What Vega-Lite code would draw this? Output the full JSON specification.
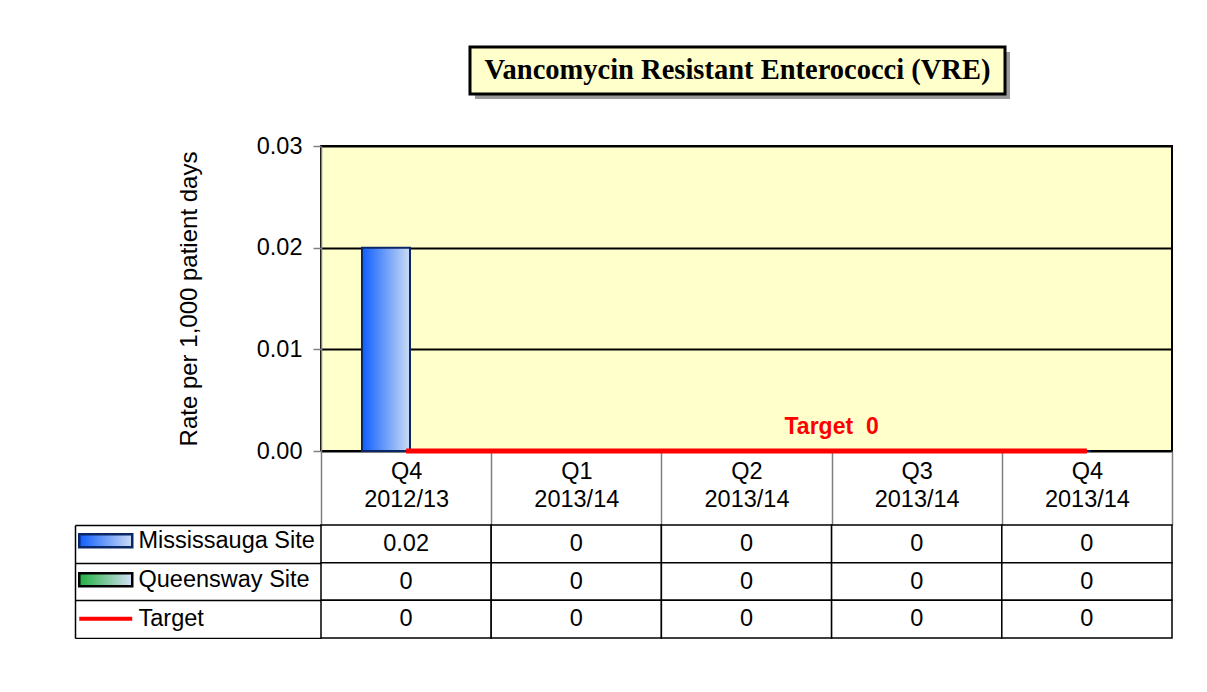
{
  "$schema": "https://vega.github.io/schema/vega-lite/v6.json",
  "background": "white",
  "padding": {"left": 74, "top": 45, "right": 0, "bottom": 0},
  "config": {"font": "Liberation Sans", "view": {"stroke": null}},
  "datasets": {
    "rates": [
      {"period": "Q4 2012/13", "series": "Mississauga Site", "value": 0.02},
      {"period": "Q1 2013/14", "series": "Mississauga Site", "value": 0},
      {"period": "Q2 2013/14", "series": "Mississauga Site", "value": 0},
      {"period": "Q3 2013/14", "series": "Mississauga Site", "value": 0},
      {"period": "Q4 2013/14", "series": "Mississauga Site", "value": 0},
      {"period": "Q4 2012/13", "series": "Queensway Site", "value": 0},
      {"period": "Q1 2013/14", "series": "Queensway Site", "value": 0},
      {"period": "Q2 2013/14", "series": "Queensway Site", "value": 0},
      {"period": "Q3 2013/14", "series": "Queensway Site", "value": 0},
      {"period": "Q4 2013/14", "series": "Queensway Site", "value": 0},
      {"period": "Q4 2012/13", "series": "Target", "value": 0},
      {"period": "Q1 2013/14", "series": "Target", "value": 0},
      {"period": "Q2 2013/14", "series": "Target", "value": 0},
      {"period": "Q3 2013/14", "series": "Target", "value": 0},
      {"period": "Q4 2013/14", "series": "Target", "value": 0}
    ],
    "titles": [{"title": "Vancomycin Resistant Enterococci (VRE)"}]
  },
  "bounds": "flush",
  "spacing": 47,
  "vconcat": [
    {
      "width": 851,
      "height": 52,
      "data": {"name": "titles"},
      "layer": [
        {
          "mark": {"type": "rect", "fill": "#9a9a9a"},
          "encoding": {
            "x": {"field": "title", "type": "nominal", "axis": null, "scale": {"type": "band", "paddingInner": 0, "paddingOuter": 0.2953, "align": 0.4873}},
            "y": {"field": "title", "type": "nominal", "axis": null, "scale": {"type": "band", "paddingInner": 0, "paddingOuter": 0.0532, "align": 1}}
          }
        },
        {
          "mark": {"type": "rect", "fill": "#FFFFCC", "stroke": "#000000", "strokeWidth": 3},
          "encoding": {
            "x": {"field": "title", "type": "nominal", "axis": null, "scale": {"type": "band", "paddingInner": 0, "paddingOuter": 0.2953, "align": 0.4715}},
            "y": {"field": "title", "type": "nominal", "axis": null, "scale": {"type": "band", "paddingInner": 0, "paddingOuter": 0.0532, "align": 0}}
          }
        },
        {
          "mark": {"type": "text", "font": "Liberation Serif", "fontWeight": "bold", "fontSize": 28.5, "baseline": "middle", "align": "center", "color": "#000000"},
          "encoding": {
            "x": {"field": "title", "type": "nominal", "axis": null, "bandPosition": 0.5, "scale": {"type": "band", "paddingInner": 0, "paddingOuter": 0.2953, "align": 0.4715}},
            "y": {"field": "title", "type": "nominal", "axis": null, "bandPosition": 0.5, "scale": {"type": "band", "paddingInner": 0, "paddingOuter": 0.0532, "align": 0}},
            "text": {"field": "title"}
          }
        }
      ],
      "resolve": {"scale": {"x": "independent", "y": "independent"}}
    },
    {
      "bounds": "flush",
      "spacing": 74,
      "vconcat": [
        {
          "width": 851,
          "height": 305,
          "view": {"fill": "#FFFFCC", "stroke": "#000000", "strokeWidth": 2},
          "data": {"name": "rates"},
          "encoding": {
            "x": {
              "field": "period", "type": "nominal",
              "scale": {"domain": ["Q4 2012/13", "Q1 2013/14", "Q2 2013/14", "Q3 2013/14", "Q4 2013/14"], "paddingInner": 0, "paddingOuter": 0},
              "axis": {
                "title": null, "orient": "bottom", "domain": false, "ticks": true, "tickBand": "extent",
                "tickSize": 74, "tickColor": "#808080", "tickWidth": 1.5,
                "labelExpr": "split(datum.label, ' ')", "labelAngle": 0, "labelFontSize": 23.5,
                "labelColor": "#000000", "labelPadding": -66, "labelLineHeight": 28, "labelBaseline": "top",
                "labelOverlap": false, "labelBound": false, "grid": false
              }
            }
          },
          "layer": [
            {
              "transform": [{"filter": "datum.series === 'Mississauga Site'"}],
              "mark": {"type": "bar", "fill": {"gradient": "linear", "stops": [{"offset": 0, "color": "#0F5FFF"}, {"offset": 1, "color": "#CCDCF4"}]}, "stroke": "#0B2866", "strokeWidth": 2},
              "encoding": {
                "xOffset": {"field": "series", "type": "nominal", "scale": {"domain": ["Mississauga Site", "Queensway Site"], "paddingInner": 0, "paddingOuter": 0.773, "align": 0.5526}},
                "y": {
                  "field": "value", "type": "quantitative",
                  "scale": {"domain": [0, 0.03], "nice": false, "zero": true},
                  "axis": {
                    "values": [0, 0.01, 0.02, 0.03], "format": ".2f", "grid": true, "gridColor": "#000000", "gridWidth": 2,
                    "domainColor": "#808080", "domainWidth": 1.5, "tickColor": "#808080", "tickWidth": 1.5, "tickSize": 8,
                    "labelFontSize": 23.5, "labelColor": "#000000", "labelPadding": 11,
                    "title": "Rate per 1,000 patient days", "titleFontSize": 24, "titleFontWeight": "normal",
                    "titleColor": "#000000", "titlePadding": 55
                  }
                }
              }
            },
            {
              "transform": [{"filter": "datum.series === 'Queensway Site'"}],
              "mark": {"type": "bar", "fill": {"gradient": "linear", "stops": [{"offset": 0, "color": "#2DB34A"}, {"offset": 1, "color": "#D4E0F6"}]}, "stroke": "#000000", "strokeWidth": 2},
              "encoding": {
                "xOffset": {"field": "series", "type": "nominal"},
                "y": {"field": "value", "type": "quantitative"}
              }
            },
            {
              "transform": [{"filter": "datum.series === 'Target'"}],
              "mark": {"type": "line", "color": "#FF0000", "strokeWidth": 5},
              "encoding": {
                "y": {"field": "value", "type": "quantitative"}
              }
            },
            {
              "transform": [{"filter": "datum.series === 'Target' && datum.period === 'Q3 2013/14'"}],
              "mark": {"type": "text", "color": "#FF0000", "fontWeight": "bold", "fontSize": 23, "align": "center", "baseline": "alphabetic", "dy": -17},
              "encoding": {
                "x": {"field": "period", "type": "nominal", "bandPosition": 0},
                "y": {"field": "value", "type": "quantitative"},
                "text": {"value": "Target\u00a0 0"}
              }
            }
          ]
        },
        {
          "width": 851,
          "height": 113,
          "data": {"name": "rates"},
          "encoding": {
            "x": {
              "field": "period", "type": "nominal",
              "scale": {"domain": ["Q4 2012/13", "Q1 2013/14", "Q2 2013/14", "Q3 2013/14", "Q4 2013/14"], "paddingInner": 0, "paddingOuter": 0},
              "axis": null
            },
            "y": {
              "field": "series", "type": "nominal",
              "scale": {"domain": ["Mississauga Site", "Queensway Site", "Target"], "paddingInner": 0, "paddingOuter": 0},
              "axis": {
                "orient": "left", "offset": 246, "title": null, "labels": false, "grid": false,
                "domain": true, "domainColor": "#000000", "domainWidth": 1.5,
                "ticks": true, "tickBand": "extent", "tickSize": -246, "tickColor": "#000000", "tickWidth": 1.5
              }
            }
          },
          "layer": [
            {"mark": {"type": "rect", "fill": "#FFFFFF", "stroke": "#000000", "strokeWidth": 1.5}},
            {
              "mark": {"type": "rect", "opacity": 0},
              "encoding": {
                "fill": {
                  "field": "series", "type": "nominal",
                  "scale": {
                    "domain": ["Mississauga Site", "Queensway Site", "Target"],
                    "range": [
                      {"expr": "{gradient: 'linear', stops: [{offset: 0, color: '#0F5FFF'}, {offset: 1, color: '#CCDCF4'}]}"},
                      {"expr": "{gradient: 'linear', stops: [{offset: 0, color: '#22B040'}, {offset: 1, color: '#D4E0F6'}]}"},
                      "transparent"
                    ]
                  },
                  "legend": {
                    "orient": "none", "legendX": -227, "legendY": 482, "title": null, "padding": 0,
                    "labelFontSize": 23.5, "labelColor": "#000000", "labelOffset": 21, "rowPadding": 14, "labelLimit": 400,
                    "symbolSize": 702, "symbolType": "M-2,-0.5L2,-0.5L2,0.5L-2,0.5Z", "symbolOpacity": 1,
                    "encode": {
                      "symbols": {
                        "update": {
                          "shape": {"signal": "datum.value === 'Target' ? 'M-2,0L2,0' : 'M-2,-0.5L2,-0.5L2,0.5L-2,0.5Z'"},
                          "stroke": {"signal": "datum.value === 'Mississauga Site' ? '#0B2866' : datum.value === 'Queensway Site' ? '#000000' : '#FF0000'"},
                          "strokeWidth": {"signal": "datum.value === 'Target' ? 4 : 2.5"},
                          "opacity": {"value": 1},
                          "fillOpacity": {"value": 1},
                          "strokeOpacity": {"value": 1}
                        }
                      }
                    }
                  }
                }
              }
            },
            {
              "mark": {"type": "text", "fontSize": 23.5, "align": "center", "baseline": "middle", "color": "#000000"},
              "encoding": {
                "text": {"field": "value", "type": "quantitative"}
              }
            }
          ]
        }
      ]
    }
  ]
}
